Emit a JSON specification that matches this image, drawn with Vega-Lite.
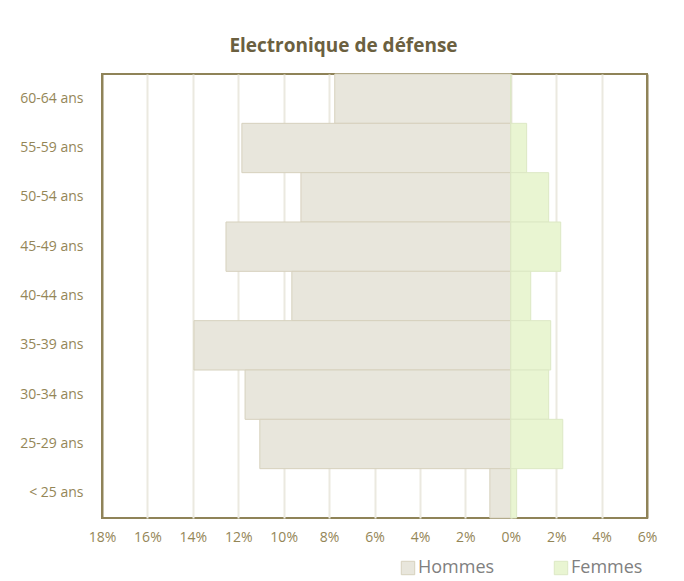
{
  "$schema": "https://vega.github.io/schema/vega-lite/v6.json",
  "autosize": {"type": "none"},
  "width": 545,
  "height": 444,
  "padding": {"left": 102, "top": 74, "right": 37, "bottom": 63},
  "background": "white",
  "title": {
    "text": "Electronique de défense",
    "anchor": "middle",
    "dx": -31,
    "offset": 18,
    "font": "Open Sans",
    "fontSize": 19,
    "fontWeight": "bold",
    "color": "#6b6040"
  },
  "data": {
    "values": [
      {"age": "60-64 ans", "sexe": "Hommes", "v": -0.0775},
      {"age": "55-59 ans", "sexe": "Hommes", "v": -0.1184},
      {"age": "50-54 ans", "sexe": "Hommes", "v": -0.0924},
      {"age": "45-49 ans", "sexe": "Hommes", "v": -0.1254},
      {"age": "40-44 ans", "sexe": "Hommes", "v": -0.0964},
      {"age": "35-39 ans", "sexe": "Hommes", "v": -0.1395},
      {"age": "30-34 ans", "sexe": "Hommes", "v": -0.117},
      {"age": "25-29 ans", "sexe": "Hommes", "v": -0.1105},
      {"age": "< 25 ans", "sexe": "Hommes", "v": -0.0092},
      {"age": "60-64 ans", "sexe": "Femmes", "v": 0.0},
      {"age": "55-59 ans", "sexe": "Femmes", "v": 0.007},
      {"age": "50-54 ans", "sexe": "Femmes", "v": 0.0167},
      {"age": "45-49 ans", "sexe": "Femmes", "v": 0.022},
      {"age": "40-44 ans", "sexe": "Femmes", "v": 0.0088},
      {"age": "35-39 ans", "sexe": "Femmes", "v": 0.0176},
      {"age": "30-34 ans", "sexe": "Femmes", "v": 0.0167},
      {"age": "25-29 ans", "sexe": "Femmes", "v": 0.0229},
      {"age": "< 25 ans", "sexe": "Femmes", "v": 0.0026}
    ]
  },
  "mark": {"type": "bar", "strokeWidth": 1},
  "encoding": {
    "y": {
      "field": "age",
      "type": "nominal",
      "sort": ["60-64 ans", "55-59 ans", "50-54 ans", "45-49 ans", "40-44 ans", "35-39 ans", "30-34 ans", "25-29 ans", "< 25 ans"],
      "scale": {"paddingInner": 0, "paddingOuter": 0},
      "axis": {
        "title": null,
        "domain": false,
        "ticks": false,
        "labelPadding": 19,
        "labelFont": "Open Sans",
        "labelFontSize": 14,
        "labelColor": "#948657"
      }
    },
    "x": {
      "field": "v",
      "type": "quantitative",
      "scale": {"domain": [-0.18, 0.06], "nice": false, "zero": false},
      "axis": {
        "title": null,
        "values": [-0.18, -0.16, -0.14, -0.12, -0.1, -0.08, -0.06, -0.04, -0.02, 0, 0.02, 0.04, 0.06],
        "labelExpr": "format(abs(datum.value), '.0%')",
        "labelFlush": false,
        "labelOverlap": false,
        "labelBound": false,
        "domain": false,
        "ticks": false,
        "labelPadding": 12,
        "labelFont": "Open Sans",
        "labelFontSize": 14,
        "labelColor": "#948657",
        "grid": true,
        "gridColor": {"condition": {"test": "datum.value <= -0.179 || datum.value >= 0.059", "value": "#8f8358"}, "value": "#ebe9e0"},
        "gridWidth": 2
      }
    },
    "color": {
      "field": "sexe",
      "type": "nominal",
      "sort": ["Hommes", "Femmes"],
      "scale": {"domain": ["Hommes", "Femmes"], "range": ["#e8e6dc", "#e9f5d2"]},
      "legend": {
        "title": null,
        "orient": "none",
        "legendX": 297,
        "legendY": 485,
        "direction": "horizontal",
        "symbolType": "square",
        "symbolSize": 180,
        "symbolStrokeColor": "#d8d4c4",
        "symbolStrokeWidth": 1,
        "labelFont": "Open Sans",
        "labelFontSize": 18,
        "labelColor": "#808080",
        "columnPadding": 57,
        "labelOffset": 1
      }
    },
    "stroke": {
      "field": "sexe",
      "type": "nominal",
      "scale": {"domain": ["Hommes", "Femmes"], "range": ["#d6d1bd", "#dce8c4"]},
      "legend": null
    }
  },
  "config": {
    "view": {"stroke": "#8f8358", "strokeWidth": 2}
  }
}
